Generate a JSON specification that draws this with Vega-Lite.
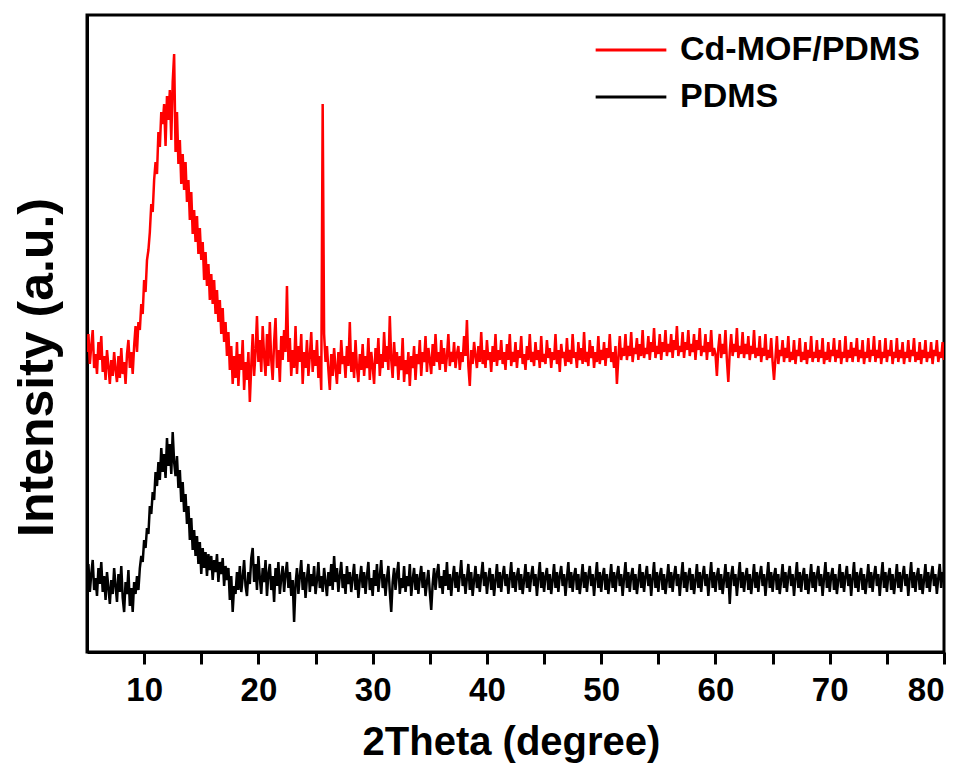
{
  "$schema": "https://vega.github.io/schema/vega-lite/v6.json",
  "width": 857,
  "height": 637,
  "autosize": {"type": "none"},
  "padding": {"left": 87, "top": 15, "right": 24, "bottom": 111},
  "background": "white",
  "config": {
    "font": "Liberation Sans",
    "view": {"stroke": "black", "strokeWidth": 3},
    "axis": {"grid": false, "domainColor": "black", "domainWidth": 3, "tickColor": "black", "labelColor": "black", "titleColor": "black"}
  },
  "data": {"values": [
{"x":5,"a":300,"b":72},{"x":5.125,"a":318,"b":88},{"x":5.25,"a":288,"b":60},{"x":5.375,"a":306,"b":78},
{"x":5.5,"a":322,"b":92},{"x":5.625,"a":284,"b":62},{"x":5.75,"a":298,"b":74},{"x":5.875,"a":278,"b":56},
{"x":6,"a":310,"b":84},{"x":6.125,"a":292,"b":68},{"x":6.25,"a":316,"b":90},{"x":6.375,"a":280,"b":60},
{"x":6.5,"a":296,"b":76},{"x":6.625,"a":272,"b":52},{"x":6.75,"a":302,"b":80},{"x":6.875,"a":286,"b":64},
{"x":7,"a":268,"b":48},{"x":7.125,"a":292,"b":72},{"x":7.25,"a":276,"b":58},{"x":7.375,"a":300,"b":84},
{"x":7.5,"a":282,"b":66},{"x":7.625,"a":270,"b":50},{"x":7.75,"a":296,"b":78},{"x":7.875,"a":274,"b":60},
{"x":8,"a":304,"b":86},{"x":8.125,"a":278,"b":54},{"x":8.25,"a":290,"b":40},{"x":8.375,"a":268,"b":70},
{"x":8.5,"a":298,"b":58},{"x":8.625,"a":312,"b":82},{"x":8.75,"a":284,"b":46},{"x":8.875,"a":300,"b":64},
{"x":9,"a":278,"b":40},{"x":9.125,"a":306,"b":70},{"x":9.25,"a":326,"b":58},{"x":9.375,"a":300,"b":76},
{"x":9.5,"a":330,"b":62},{"x":9.625,"a":322,"b":84},{"x":9.75,"a":348,"b":96},{"x":9.875,"a":338,"b":90},
{"x":10,"a":372,"b":112},{"x":10.125,"a":360,"b":104},{"x":10.25,"a":392,"b":124},{"x":10.375,"a":402,"b":118},
{"x":10.5,"a":420,"b":146},{"x":10.625,"a":448,"b":138},{"x":10.75,"a":440,"b":160},{"x":10.875,"a":472,"b":152},
{"x":11,"a":490,"b":180},{"x":11.125,"a":478,"b":166},{"x":11.25,"a":520,"b":190},{"x":11.375,"a":505,"b":172},
{"x":11.5,"a":540,"b":204},{"x":11.625,"a":528,"b":180},{"x":11.75,"a":548,"b":198},{"x":11.875,"a":506,"b":174},
{"x":12,"a":556,"b":214},{"x":12.125,"a":532,"b":186},{"x":12.25,"a":562,"b":208},{"x":12.375,"a":512,"b":178},
{"x":12.5,"a":570,"b":220},{"x":12.625,"a":598,"b":190},{"x":12.75,"a":500,"b":176},{"x":12.875,"a":540,"b":196},
{"x":13,"a":488,"b":164},{"x":13.125,"a":512,"b":182},{"x":13.25,"a":468,"b":150},{"x":13.375,"a":498,"b":170},
{"x":13.5,"a":462,"b":140},{"x":13.625,"a":490,"b":158},{"x":13.75,"a":450,"b":128},{"x":13.875,"a":472,"b":146},
{"x":14,"a":432,"b":112},{"x":14.125,"a":460,"b":134},{"x":14.25,"a":418,"b":102},{"x":14.375,"a":442,"b":122},
{"x":14.5,"a":410,"b":96},{"x":14.625,"a":436,"b":116},{"x":14.75,"a":398,"b":88},{"x":14.875,"a":424,"b":110},
{"x":15,"a":392,"b":78},{"x":15.125,"a":410,"b":104},{"x":15.25,"a":372,"b":84},{"x":15.375,"a":400,"b":100},
{"x":15.5,"a":366,"b":76},{"x":15.625,"a":388,"b":98},{"x":15.75,"a":352,"b":82},{"x":15.875,"a":378,"b":96},
{"x":16,"a":348,"b":72},{"x":16.125,"a":372,"b":92},{"x":16.25,"a":338,"b":80},{"x":16.375,"a":362,"b":98},
{"x":16.5,"a":330,"b":70},{"x":16.625,"a":352,"b":90},{"x":16.75,"a":318,"b":78},{"x":16.875,"a":344,"b":94},
{"x":17,"a":310,"b":66},{"x":17.125,"a":330,"b":86},{"x":17.25,"a":296,"b":72},{"x":17.375,"a":320,"b":84},
{"x":17.5,"a":282,"b":52},{"x":17.625,"a":306,"b":76},{"x":17.75,"a":268,"b":40},{"x":17.875,"a":296,"b":66},
{"x":18,"a":274,"b":58},{"x":18.125,"a":310,"b":80},{"x":18.25,"a":266,"b":62},{"x":18.375,"a":298,"b":86},
{"x":18.5,"a":282,"b":60},{"x":18.625,"a":312,"b":74},{"x":18.75,"a":262,"b":92},{"x":18.875,"a":290,"b":66},
{"x":19,"a":272,"b":56},{"x":19.125,"a":300,"b":80},{"x":19.25,"a":250,"b":68},{"x":19.375,"a":286,"b":94},
{"x":19.5,"a":318,"b":104},{"x":19.625,"a":276,"b":70},{"x":19.75,"a":300,"b":88},{"x":19.875,"a":336,"b":62},
{"x":20,"a":290,"b":96},{"x":20.125,"a":312,"b":74},{"x":20.25,"a":280,"b":58},{"x":20.375,"a":326,"b":84},
{"x":20.5,"a":296,"b":70},{"x":20.625,"a":276,"b":92},{"x":20.75,"a":318,"b":56},{"x":20.875,"a":286,"b":78},
{"x":21,"a":330,"b":88},{"x":21.125,"a":292,"b":62},{"x":21.25,"a":272,"b":76},{"x":21.375,"a":310,"b":50},
{"x":21.5,"a":334,"b":84},{"x":21.625,"a":284,"b":66},{"x":21.75,"a":302,"b":90},{"x":21.875,"a":270,"b":58},
{"x":22,"a":316,"b":74},{"x":22.125,"a":292,"b":86},{"x":22.25,"a":322,"b":60},{"x":22.375,"a":300,"b":78},
{"x":22.5,"a":366,"b":90},{"x":22.625,"a":290,"b":64},{"x":22.75,"a":314,"b":80},{"x":22.875,"a":276,"b":56},
{"x":23,"a":302,"b":72},{"x":23.125,"a":284,"b":30},{"x":23.25,"a":326,"b":68},{"x":23.375,"a":278,"b":84},
{"x":23.5,"a":306,"b":58},{"x":23.625,"a":290,"b":76},{"x":23.75,"a":318,"b":92},{"x":23.875,"a":268,"b":62},
{"x":24,"a":300,"b":80},{"x":24.125,"a":284,"b":54},{"x":24.25,"a":312,"b":74},{"x":24.375,"a":276,"b":88},
{"x":24.5,"a":296,"b":60},{"x":24.625,"a":320,"b":78},{"x":24.75,"a":280,"b":66},{"x":24.875,"a":302,"b":86},
{"x":25,"a":286,"b":58},{"x":25.125,"a":312,"b":72},{"x":25.25,"a":274,"b":90},{"x":25.375,"a":296,"b":64},
{"x":25.5,"a":262,"b":76},{"x":25.625,"a":548,"b":60},{"x":25.75,"a":318,"b":84},{"x":25.875,"a":290,"b":70},
{"x":26,"a":306,"b":56},{"x":26.125,"a":282,"b":80},{"x":26.25,"a":262,"b":66},{"x":26.375,"a":298,"b":88},
{"x":26.5,"a":276,"b":62},{"x":26.625,"a":304,"b":96},{"x":26.75,"a":284,"b":70},{"x":26.875,"a":268,"b":84},
{"x":27,"a":300,"b":60},{"x":27.125,"a":278,"b":76},{"x":27.25,"a":312,"b":90},{"x":27.375,"a":288,"b":64},
{"x":27.5,"a":296,"b":78},{"x":27.625,"a":274,"b":58},{"x":27.75,"a":306,"b":86},{"x":27.875,"a":286,"b":68},
{"x":28,"a":330,"b":80},{"x":28.125,"a":280,"b":60},{"x":28.25,"a":300,"b":74},{"x":28.375,"a":274,"b":88},
{"x":28.5,"a":312,"b":62},{"x":28.625,"a":284,"b":78},{"x":28.75,"a":270,"b":54},{"x":28.875,"a":298,"b":72},
{"x":29,"a":282,"b":86},{"x":29.125,"a":308,"b":64},{"x":29.25,"a":276,"b":80},{"x":29.375,"a":296,"b":58},
{"x":29.5,"a":284,"b":76},{"x":29.625,"a":314,"b":90},{"x":29.75,"a":272,"b":62},{"x":29.875,"a":300,"b":74},
{"x":30,"a":286,"b":56},{"x":30.125,"a":268,"b":82},{"x":30.25,"a":304,"b":66},{"x":30.375,"a":288,"b":88},
{"x":30.5,"a":314,"b":60},{"x":30.625,"a":276,"b":76},{"x":30.75,"a":298,"b":92},{"x":30.875,"a":284,"b":64},
{"x":31,"a":320,"b":78},{"x":31.125,"a":290,"b":56},{"x":31.25,"a":306,"b":74},{"x":31.375,"a":282,"b":86},
{"x":31.5,"a":336,"b":60},{"x":31.625,"a":292,"b":40},{"x":31.75,"a":274,"b":70},{"x":31.875,"a":310,"b":84},
{"x":32,"a":286,"b":62},{"x":32.125,"a":300,"b":78},{"x":32.25,"a":272,"b":90},{"x":32.375,"a":296,"b":58},
{"x":32.5,"a":282,"b":74},{"x":32.625,"a":314,"b":64},{"x":32.75,"a":270,"b":86},{"x":32.875,"a":292,"b":60},
{"x":33,"a":278,"b":76},{"x":33.125,"a":300,"b":66},{"x":33.25,"a":266,"b":88},{"x":33.375,"a":296,"b":56},
{"x":33.5,"a":284,"b":72},{"x":33.625,"a":306,"b":84},{"x":33.75,"a":272,"b":62},{"x":33.875,"a":298,"b":78},
{"x":34,"a":288,"b":58},{"x":34.125,"a":312,"b":74},{"x":34.25,"a":276,"b":86},{"x":34.375,"a":300,"b":64},
{"x":34.5,"a":290,"b":80},{"x":34.625,"a":316,"b":56},{"x":34.75,"a":280,"b":70},{"x":34.875,"a":304,"b":82},
{"x":35,"a":292,"b":60},{"x":35.125,"a":278,"b":42},{"x":35.25,"a":308,"b":68},{"x":35.375,"a":286,"b":84},
{"x":35.5,"a":318,"b":62},{"x":35.625,"a":290,"b":78},{"x":35.75,"a":300,"b":88},{"x":35.875,"a":282,"b":64},
{"x":36,"a":312,"b":76},{"x":36.125,"a":288,"b":58},{"x":36.25,"a":304,"b":82},{"x":36.375,"a":280,"b":66},
{"x":36.5,"a":296,"b":90},{"x":36.625,"a":318,"b":62},{"x":36.75,"a":286,"b":78},{"x":36.875,"a":300,"b":56},
{"x":37,"a":290,"b":74},{"x":37.125,"a":310,"b":86},{"x":37.25,"a":284,"b":64},{"x":37.375,"a":298,"b":80},
{"x":37.5,"a":306,"b":60},{"x":37.625,"a":282,"b":76},{"x":37.75,"a":300,"b":92},{"x":37.875,"a":290,"b":66},
{"x":38,"a":316,"b":78},{"x":38.125,"a":296,"b":58},{"x":38.25,"a":332,"b":74},{"x":38.375,"a":286,"b":88},
{"x":38.5,"a":266,"b":62},{"x":38.625,"a":302,"b":80},{"x":38.75,"a":288,"b":56},{"x":38.875,"a":310,"b":72},
{"x":39,"a":296,"b":86},{"x":39.125,"a":284,"b":64},{"x":39.25,"a":306,"b":78},{"x":39.375,"a":290,"b":60},
{"x":39.5,"a":320,"b":76},{"x":39.625,"a":288,"b":90},{"x":39.75,"a":302,"b":66},{"x":39.875,"a":284,"b":80},
{"x":40,"a":312,"b":58},{"x":40.125,"a":292,"b":74},{"x":40.25,"a":300,"b":84},{"x":40.375,"a":280,"b":62},
{"x":40.5,"a":306,"b":78},{"x":40.625,"a":290,"b":56},{"x":40.75,"a":318,"b":72},{"x":40.875,"a":286,"b":88},
{"x":41,"a":302,"b":64},{"x":41.125,"a":292,"b":80},{"x":41.25,"a":312,"b":60},{"x":41.375,"a":288,"b":76},
{"x":41.5,"a":300,"b":86},{"x":41.625,"a":282,"b":66},{"x":41.75,"a":308,"b":78},{"x":41.875,"a":292,"b":58},
{"x":42,"a":318,"b":74},{"x":42.125,"a":286,"b":90},{"x":42.25,"a":300,"b":64},{"x":42.375,"a":290,"b":80},
{"x":42.5,"a":310,"b":60},{"x":42.625,"a":284,"b":76},{"x":42.75,"a":302,"b":84},{"x":42.875,"a":294,"b":62},
{"x":43,"a":316,"b":78},{"x":43.125,"a":288,"b":58},{"x":43.25,"a":298,"b":72},{"x":43.375,"a":282,"b":88},
{"x":43.5,"a":306,"b":64},{"x":43.625,"a":292,"b":80},{"x":43.75,"a":318,"b":60},{"x":43.875,"a":290,"b":76},
{"x":44,"a":300,"b":86},{"x":44.125,"a":286,"b":66},{"x":44.25,"a":310,"b":78},{"x":44.375,"a":292,"b":56},
{"x":44.5,"a":302,"b":74},{"x":44.625,"a":284,"b":90},{"x":44.75,"a":316,"b":64},{"x":44.875,"a":290,"b":80},
{"x":45,"a":298,"b":60},{"x":45.125,"a":288,"b":76},{"x":45.25,"a":312,"b":84},{"x":45.375,"a":294,"b":62},
{"x":45.5,"a":304,"b":78},{"x":45.625,"a":284,"b":58},{"x":45.75,"a":300,"b":72},{"x":45.875,"a":292,"b":88},
{"x":46,"a":318,"b":64},{"x":46.125,"a":288,"b":80},{"x":46.25,"a":302,"b":60},{"x":46.375,"a":280,"b":76},
{"x":46.5,"a":308,"b":86},{"x":46.625,"a":294,"b":66},{"x":46.75,"a":300,"b":78},{"x":46.875,"a":286,"b":56},
{"x":47,"a":314,"b":74},{"x":47.125,"a":290,"b":90},{"x":47.25,"a":302,"b":64},{"x":47.375,"a":288,"b":80},
{"x":47.5,"a":318,"b":60},{"x":47.625,"a":294,"b":76},{"x":47.75,"a":300,"b":84},{"x":47.875,"a":284,"b":62},
{"x":48,"a":310,"b":78},{"x":48.125,"a":292,"b":58},{"x":48.25,"a":304,"b":72},{"x":48.375,"a":288,"b":88},
{"x":48.5,"a":320,"b":64},{"x":48.625,"a":290,"b":80},{"x":48.75,"a":300,"b":60},{"x":48.875,"a":286,"b":76},
{"x":49,"a":312,"b":86},{"x":49.125,"a":294,"b":66},{"x":49.25,"a":306,"b":78},{"x":49.375,"a":284,"b":56},
{"x":49.5,"a":300,"b":74},{"x":49.625,"a":290,"b":90},{"x":49.75,"a":316,"b":64},{"x":49.875,"a":288,"b":80},
{"x":50,"a":302,"b":60},{"x":50.125,"a":292,"b":76},{"x":50.25,"a":310,"b":84},{"x":50.375,"a":286,"b":62},
{"x":50.5,"a":304,"b":78},{"x":50.625,"a":294,"b":58},{"x":50.75,"a":318,"b":72},{"x":50.875,"a":290,"b":88},
{"x":51,"a":300,"b":64},{"x":51.125,"a":284,"b":80},{"x":51.25,"a":306,"b":60},{"x":51.375,"a":268,"b":76},
{"x":51.5,"a":294,"b":86},{"x":51.625,"a":316,"b":66},{"x":51.75,"a":292,"b":78},{"x":51.875,"a":304,"b":56},
{"x":52,"a":296,"b":74},{"x":52.125,"a":318,"b":90},{"x":52.25,"a":292,"b":64},{"x":52.375,"a":306,"b":80},
{"x":52.5,"a":296,"b":60},{"x":52.625,"a":320,"b":76},{"x":52.75,"a":290,"b":84},{"x":52.875,"a":304,"b":62},
{"x":53,"a":298,"b":78},{"x":53.125,"a":314,"b":58},{"x":53.25,"a":292,"b":72},{"x":53.375,"a":308,"b":88},
{"x":53.5,"a":296,"b":64},{"x":53.625,"a":322,"b":80},{"x":53.75,"a":294,"b":60},{"x":53.875,"a":304,"b":76},
{"x":54,"a":298,"b":86},{"x":54.125,"a":316,"b":66},{"x":54.25,"a":292,"b":78},{"x":54.375,"a":310,"b":56},
{"x":54.5,"a":300,"b":74},{"x":54.625,"a":324,"b":90},{"x":54.75,"a":294,"b":64},{"x":54.875,"a":306,"b":80},
{"x":55,"a":298,"b":60},{"x":55.125,"a":318,"b":76},{"x":55.25,"a":292,"b":84},{"x":55.375,"a":310,"b":62},
{"x":55.5,"a":300,"b":78},{"x":55.625,"a":322,"b":58},{"x":55.75,"a":296,"b":72},{"x":55.875,"a":308,"b":88},
{"x":56,"a":300,"b":64},{"x":56.125,"a":318,"b":80},{"x":56.25,"a":294,"b":60},{"x":56.375,"a":312,"b":76},
{"x":56.5,"a":302,"b":86},{"x":56.625,"a":326,"b":66},{"x":56.75,"a":296,"b":78},{"x":56.875,"a":306,"b":56},
{"x":57,"a":300,"b":74},{"x":57.125,"a":320,"b":90},{"x":57.25,"a":294,"b":64},{"x":57.375,"a":310,"b":80},
{"x":57.5,"a":302,"b":60},{"x":57.625,"a":322,"b":76},{"x":57.75,"a":296,"b":84},{"x":57.875,"a":308,"b":62},
{"x":58,"a":300,"b":78},{"x":58.125,"a":318,"b":58},{"x":58.25,"a":292,"b":72},{"x":58.375,"a":312,"b":88},
{"x":58.5,"a":302,"b":64},{"x":58.625,"a":324,"b":80},{"x":58.75,"a":296,"b":60},{"x":58.875,"a":306,"b":76},
{"x":59,"a":300,"b":86},{"x":59.125,"a":318,"b":66},{"x":59.25,"a":292,"b":78},{"x":59.375,"a":310,"b":56},
{"x":59.5,"a":300,"b":74},{"x":59.625,"a":322,"b":90},{"x":59.75,"a":296,"b":64},{"x":59.875,"a":304,"b":80},
{"x":60,"a":298,"b":60},{"x":60.125,"a":276,"b":76},{"x":60.25,"a":304,"b":84},{"x":60.375,"a":318,"b":62},
{"x":60.5,"a":294,"b":78},{"x":60.625,"a":308,"b":58},{"x":60.75,"a":298,"b":72},{"x":60.875,"a":322,"b":88},
{"x":61,"a":292,"b":64},{"x":61.125,"a":270,"b":80},{"x":61.25,"a":300,"b":48},{"x":61.375,"a":318,"b":76},
{"x":61.5,"a":296,"b":86},{"x":61.625,"a":308,"b":66},{"x":61.75,"a":300,"b":78},{"x":61.875,"a":324,"b":56},
{"x":62,"a":294,"b":74},{"x":62.125,"a":306,"b":90},{"x":62.25,"a":298,"b":64},{"x":62.375,"a":320,"b":80},
{"x":62.5,"a":294,"b":60},{"x":62.625,"a":308,"b":76},{"x":62.75,"a":298,"b":84},{"x":62.875,"a":316,"b":62},
{"x":63,"a":292,"b":78},{"x":63.125,"a":306,"b":58},{"x":63.25,"a":298,"b":72},{"x":63.375,"a":322,"b":88},
{"x":63.5,"a":294,"b":64},{"x":63.625,"a":304,"b":80},{"x":63.75,"a":296,"b":60},{"x":63.875,"a":316,"b":76},
{"x":64,"a":290,"b":86},{"x":64.125,"a":304,"b":66},{"x":64.25,"a":296,"b":78},{"x":64.375,"a":318,"b":56},
{"x":64.5,"a":292,"b":74},{"x":64.625,"a":302,"b":90},{"x":64.75,"a":294,"b":64},{"x":64.875,"a":314,"b":80},
{"x":65,"a":290,"b":60},{"x":65.125,"a":272,"b":76},{"x":65.25,"a":294,"b":84},{"x":65.375,"a":316,"b":62},
{"x":65.5,"a":288,"b":78},{"x":65.625,"a":302,"b":58},{"x":65.75,"a":296,"b":72},{"x":65.875,"a":312,"b":88},
{"x":66,"a":290,"b":64},{"x":66.125,"a":304,"b":80},{"x":66.25,"a":294,"b":60},{"x":66.375,"a":316,"b":76},
{"x":66.5,"a":290,"b":86},{"x":66.625,"a":300,"b":66},{"x":66.75,"a":292,"b":78},{"x":66.875,"a":312,"b":56},
{"x":67,"a":288,"b":74},{"x":67.125,"a":302,"b":90},{"x":67.25,"a":296,"b":64},{"x":67.375,"a":314,"b":80},
{"x":67.5,"a":290,"b":60},{"x":67.625,"a":300,"b":76},{"x":67.75,"a":292,"b":84},{"x":67.875,"a":310,"b":62},
{"x":68,"a":288,"b":78},{"x":68.125,"a":302,"b":58},{"x":68.25,"a":294,"b":72},{"x":68.375,"a":316,"b":88},
{"x":68.5,"a":290,"b":64},{"x":68.625,"a":300,"b":80},{"x":68.75,"a":294,"b":60},{"x":68.875,"a":312,"b":76},
{"x":69,"a":290,"b":86},{"x":69.125,"a":302,"b":66},{"x":69.25,"a":294,"b":78},{"x":69.375,"a":314,"b":56},
{"x":69.5,"a":288,"b":74},{"x":69.625,"a":300,"b":90},{"x":69.75,"a":292,"b":64},{"x":69.875,"a":310,"b":80},
{"x":70,"a":290,"b":60},{"x":70.125,"a":302,"b":76},{"x":70.25,"a":296,"b":84},{"x":70.375,"a":314,"b":62},
{"x":70.5,"a":290,"b":78},{"x":70.625,"a":302,"b":58},{"x":70.75,"a":294,"b":72},{"x":70.875,"a":312,"b":88},
{"x":71,"a":288,"b":64},{"x":71.125,"a":300,"b":80},{"x":71.25,"a":294,"b":60},{"x":71.375,"a":316,"b":76},
{"x":71.5,"a":290,"b":86},{"x":71.625,"a":302,"b":66},{"x":71.75,"a":294,"b":78},{"x":71.875,"a":310,"b":56},
{"x":72,"a":290,"b":74},{"x":72.125,"a":304,"b":90},{"x":72.25,"a":296,"b":64},{"x":72.375,"a":314,"b":80},
{"x":72.5,"a":290,"b":60},{"x":72.625,"a":302,"b":76},{"x":72.75,"a":294,"b":84},{"x":72.875,"a":312,"b":62},
{"x":73,"a":288,"b":78},{"x":73.125,"a":300,"b":58},{"x":73.25,"a":294,"b":72},{"x":73.375,"a":314,"b":88},
{"x":73.5,"a":290,"b":64},{"x":73.625,"a":302,"b":80},{"x":73.75,"a":296,"b":60},{"x":73.875,"a":316,"b":76},
{"x":74,"a":290,"b":86},{"x":74.125,"a":302,"b":66},{"x":74.25,"a":294,"b":78},{"x":74.375,"a":312,"b":56},
{"x":74.5,"a":288,"b":74},{"x":74.625,"a":300,"b":90},{"x":74.75,"a":294,"b":64},{"x":74.875,"a":314,"b":80},
{"x":75,"a":290,"b":60},{"x":75.125,"a":302,"b":76},{"x":75.25,"a":296,"b":84},{"x":75.375,"a":312,"b":62},
{"x":75.5,"a":288,"b":78},{"x":75.625,"a":300,"b":58},{"x":75.75,"a":294,"b":72},{"x":75.875,"a":314,"b":88},
{"x":76,"a":290,"b":64},{"x":76.125,"a":302,"b":80},{"x":76.25,"a":294,"b":60},{"x":76.375,"a":310,"b":76},
{"x":76.5,"a":288,"b":86},{"x":76.625,"a":300,"b":66},{"x":76.75,"a":294,"b":78},{"x":76.875,"a":312,"b":56},
{"x":77,"a":290,"b":74},{"x":77.125,"a":302,"b":90},{"x":77.25,"a":296,"b":64},{"x":77.375,"a":314,"b":80},
{"x":77.5,"a":290,"b":60},{"x":77.625,"a":300,"b":76},{"x":77.75,"a":292,"b":84},{"x":77.875,"a":310,"b":62},
{"x":78,"a":288,"b":78},{"x":78.125,"a":302,"b":58},{"x":78.25,"a":294,"b":72},{"x":78.375,"a":312,"b":88},
{"x":78.5,"a":290,"b":64},{"x":78.625,"a":300,"b":80},{"x":78.75,"a":294,"b":60},{"x":78.875,"a":310,"b":76},
{"x":79,"a":288,"b":86},{"x":79.125,"a":302,"b":66},{"x":79.25,"a":296,"b":78},{"x":79.375,"a":312,"b":58},
{"x":79.5,"a":290,"b":74},{"x":79.625,"a":300,"b":88},{"x":79.75,"a":294,"b":64},{"x":79.875,"a":310,"b":80},
{"x":80,"a":292,"b":72}
  ]},
  "transform": [{"fold": ["a", "b"], "as": ["s", "v"]}],
  "mark": {"type": "line", "strokeWidth": 2.5, "clip": true},
  "encoding": {
    "x": {
      "field": "x", "type": "quantitative",
      "scale": {"domain": [5, 80], "nice": false, "zero": false},
      "axis": {
        "values": [10, 15, 20, 25, 30, 35, 40, 45, 50, 55, 60, 65, 70, 75, 80],
        "labelExpr": "datum.value % 10 == 0 ? datum.label : ''",
        "labelFontSize": 33, "labelFontWeight": "bold",
        "labelBaseline": "alphabetic", "labelPadding": 36,
        "tickSize": 12, "tickWidth": 3,
        "title": "2Theta (degree)", "titleFontSize": 40, "titleFontWeight": "bold",
        "titleBaseline": "alphabetic", "titleY": 102, "titleX": 424,
        "encode": {"ticks": {"update": {"y2": {"signal": "datum.value % 10 === 0 ? 12 : 6"}}}}
      }
    },
    "y": {
      "field": "v", "type": "quantitative",
      "scale": {"domain": [0, 637], "nice": false, "zero": false},
      "axis": {
        "ticks": false, "labels": false,
        "title": "Intensity (a.u.)", "titleFontSize": 50, "titleFontWeight": "bold",
        "titleBaseline": "alphabetic", "titleX": -35, "titleY": 352, "titleAngle": 270
      }
    },
    "color": {
      "field": "s", "type": "nominal",
      "scale": {"domain": ["a", "b"], "range": ["#ff0000", "#000000"]},
      "legend": {
        "orient": "none", "legendX": 507, "legendY": 19, "title": null,
        "symbolType": "stroke", "symbolSize": 5000, "symbolStrokeWidth": 3,
        "labelFontSize": 34, "labelFontWeight": "bold", "labelColor": "black",
        "labelOffset": 12, "rowPadding": 13, "clipHeight": 32, "padding": 0, "labelLimit": 0,
        "labelExpr": "datum.label == 'a' ? 'Cd-MOF/PDMS' : 'PDMS'"
      }
    }
  }
}
